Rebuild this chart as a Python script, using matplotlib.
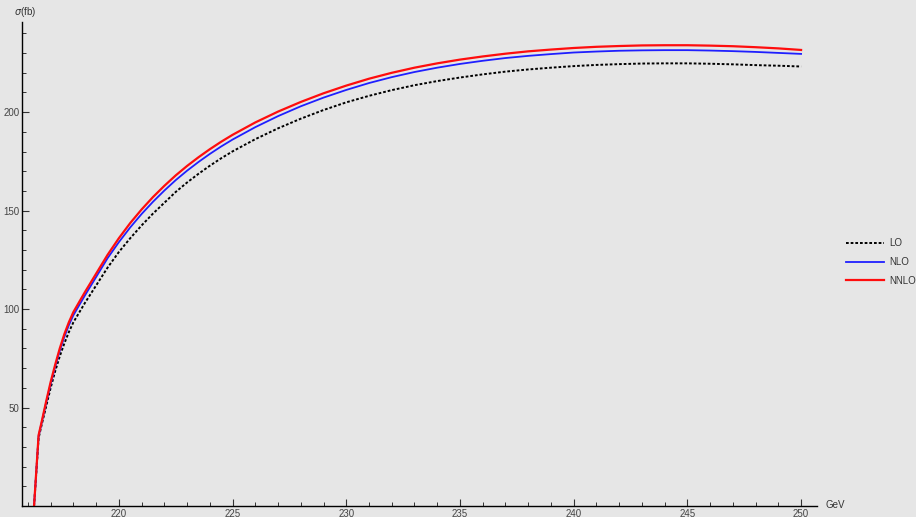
import numpy as np
import matplotlib.pyplot as plt
from matplotlib.ticker import MultipleLocator, FixedLocator

# sqrt(s) in GeV and cross sections in fb
sqrt_s = [216.27, 216.47, 216.6, 216.8, 217.0, 217.2, 217.4, 217.6, 217.8, 218.0,
          218.5, 219.0, 219.5, 220.0, 220.5, 221.0, 221.5, 222.0, 222.5, 223.0,
          223.5, 224.0, 224.5, 225.0,
          226, 227, 228, 229, 230, 231, 232, 233, 234, 235, 236, 237, 238,
          239, 240, 241, 242, 243, 244, 245, 246, 247, 248, 249, 250]
sigma_lo = [0, 34.5, 41, 50.5, 60, 68.5, 76, 82.5, 88.3, 93.3,
            103, 112, 121, 129, 136, 142.5, 148.5, 154, 159.5, 164.3,
            168.7, 172.8, 176.6, 180.1,
            186.3, 191.8, 196.7, 201.1, 205, 208.3, 211.2, 213.7, 215.8, 217.6,
            219.2, 220.6, 221.7, 222.6, 223.4, 224, 224.4, 224.7, 224.8, 224.8,
            224.6, 224.3, 223.9, 223.6, 223.2]
sigma_nlo = [0, 35.5, 42, 52.3, 62, 70.8, 78.8, 85.8, 91.8, 96.9,
             106.8, 116.3, 125.8, 134, 141.5, 148.3, 154.5, 160.2, 165.5, 170.3,
             174.7, 178.8, 182.6, 186.1,
             192.4, 198, 203, 207.4, 211.3, 214.8, 217.8, 220.4, 222.6, 224.5,
             226.1, 227.5, 228.6, 229.5, 230.3, 230.8, 231.2, 231.4, 231.5, 231.5,
             231.3, 231, 230.6, 230.1, 229.6]
sigma_nnlo = [0, 36, 42.5, 53, 63, 71.8, 80, 87.2, 93.3, 98.5,
              108.5, 118, 127.5, 136, 143.7, 150.6, 156.9, 162.6, 167.9, 172.7,
              177.1, 181.2, 185, 188.5,
              194.8, 200.3, 205.2, 209.6, 213.5, 217, 220, 222.6, 224.8, 226.7,
              228.3, 229.7, 230.9, 231.8, 232.6, 233.2, 233.6, 233.9, 234.0, 234.0,
              233.8, 233.5, 233.0, 232.4, 231.6]

bg = '#e6e6e6'
plt.rcParams['font.family'] = ['Liberation Sans', 'DejaVu Sans']

fig = plt.figure(figsize=(9.16, 5.17), dpi=100, facecolor=bg)
ax = fig.add_axes([22 / 916, 11 / 517, 795 / 916, 484 / 517])
ax.set_facecolor(bg)

ax.plot(sqrt_s, sigma_lo, color='black', lw=1.4, ls=(0, (1.4, 1.0)), label='LO')
ax.plot(sqrt_s, sigma_nlo, color='#1f1fff', lw=1.3, label='NLO')
ax.plot(sqrt_s, sigma_nnlo, color='#ff0d0d', lw=1.6, label='NNLO')

ax.set_xlim(215.74, 250.7)
ax.set_ylim(0, 245.8)

for side in ['top', 'right']:
    ax.spines[side].set_visible(False)
for side in ['left', 'bottom']:
    ax.spines[side].set_linewidth(1.0)
    ax.spines[side].set_color('black')

ax.xaxis.set_major_locator(FixedLocator([220, 225, 230, 235, 240, 245, 250]))
ax.xaxis.set_minor_locator(MultipleLocator(1))
ax.yaxis.set_major_locator(FixedLocator([50, 100, 150, 200]))
ax.yaxis.set_minor_locator(MultipleLocator(10))
ax.tick_params(which='major', direction='in', length=5, width=0.8, color='#333333',
               labelsize=7, labelcolor='#444444', pad=2)
ax.tick_params(which='minor', direction='in', length=3, width=0.7, color='#333333')

fig.text(825 / 916, 1 - 505 / 517, 'GeV', fontsize=7, color='#333333', va='center', ha='left')
fig.text(14 / 916, 1 - 12 / 517, r'$\sigma$(fb)', fontsize=7, color='#333333', va='center', ha='left')

fig.legend(loc='center left', bbox_to_anchor=(846 / 916, 1 - 262 / 517), frameon=False,
           borderpad=0, borderaxespad=0,
           fontsize=7, handlelength=3.9, handletextpad=0.6, labelspacing=0.9,
           labelcolor='#333333')

fig.savefig('out.png', dpi=100, facecolor=bg)
